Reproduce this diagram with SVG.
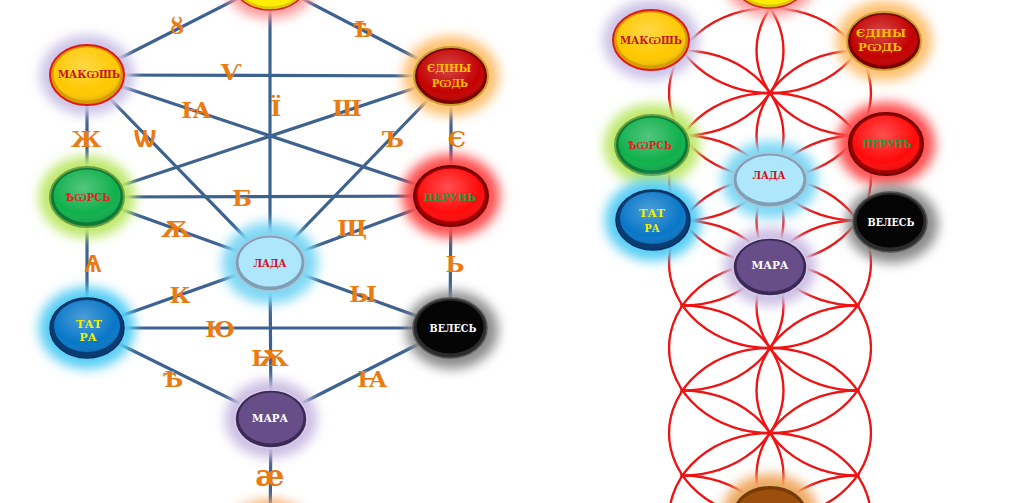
<svg xmlns="http://www.w3.org/2000/svg" width="1024" height="503" viewBox="0 0 1024 503">
<style>
.edge{stroke:#3e6290;stroke-width:3.2;stroke-linecap:round;fill:none}
.lbl{font-family:"DejaVu Serif","Noto Sans","DejaVu Sans",serif;font-weight:bold;font-size:23px;fill:#ea7a12;text-anchor:middle;dominant-baseline:central}
.nt{font-family:"DejaVu Serif","Liberation Serif","Noto Sans",serif;font-weight:bold;font-size:11px;text-anchor:middle;dominant-baseline:central}
.glow{filter:url(#blur)}
.petal{fill:none;stroke:#ee1414;stroke-width:2.4}
.shine{fill:url(#shine)}
</style>
<defs>
<filter id="blur" x="-60%" y="-60%" width="220%" height="220%"><feGaussianBlur stdDeviation="6"/></filter>
<radialGradient id="shine" cx="0.45" cy="0.35" r="0.7">
<stop offset="0" stop-color="#fff" stop-opacity="0.28"/>
<stop offset="0.7" stop-color="#fff" stop-opacity="0"/>
<stop offset="1" stop-color="#000" stop-opacity="0.15"/>
</radialGradient>
<clipPath id="flower">
<ellipse cx="770" cy="93" rx="102.5" ry="86.5"/>
<ellipse cx="770" cy="178" rx="102.5" ry="86.5"/>
<ellipse cx="770" cy="263" rx="102.5" ry="86.5"/>
<ellipse cx="770" cy="348" rx="102.5" ry="86.5"/>
<ellipse cx="770" cy="433" rx="102.5" ry="86.5"/>
<ellipse cx="770" cy="518" rx="102.5" ry="86.5"/>
</clipPath>
</defs>
<rect width="1024" height="503" fill="#fff"/>

<!-- LEFT: connectors -->
<g id="connectors">
<line class="edge" x1="270" y1="-18" x2="87" y2="75"/>
<line class="edge" x1="270" y1="-18" x2="451" y2="76"/>
<line class="edge" x1="270" y1="-18" x2="270" y2="263"/>
<line class="edge" x1="87" y1="75" x2="451" y2="76"/>
<line class="edge" x1="87" y1="75" x2="451" y2="196"/>
<line class="edge" x1="87" y1="75" x2="270" y2="263"/>
<line class="edge" x1="87" y1="75" x2="87" y2="197"/>
<line class="edge" x1="451" y1="76" x2="87" y2="197"/>
<line class="edge" x1="451" y1="76" x2="270" y2="263"/>
<line class="edge" x1="451" y1="76" x2="451" y2="196"/>
<line class="edge" x1="87" y1="197" x2="451" y2="196"/>
<line class="edge" x1="87" y1="197" x2="270" y2="263"/>
<line class="edge" x1="451" y1="196" x2="270" y2="263"/>
<line class="edge" x1="87" y1="197" x2="87" y2="328"/>
<line class="edge" x1="451" y1="196" x2="450" y2="328"/>
<line class="edge" x1="270" y1="263" x2="87" y2="328"/>
<line class="edge" x1="270" y1="263" x2="450" y2="328"/>
<line class="edge" x1="87" y1="328" x2="450" y2="328"/>
<line class="edge" x1="270" y1="263" x2="271" y2="419"/>
<line class="edge" x1="87" y1="328" x2="271" y2="419"/>
<line class="edge" x1="450" y1="328" x2="271" y2="419"/>
<line class="edge" x1="271" y1="419" x2="270" y2="540"/>
</g>

<g id="edge-labels">
<text class="lbl" x="177" y="25">ȣ</text>
<text class="lbl" x="363" y="28">Ѣ</text>
<text class="lbl" x="231" y="71">Ѵ</text>
<text class="lbl" x="196" y="109">Ꙗ</text>
<text class="lbl" x="276" y="107">Ї</text>
<text class="lbl" x="347" y="107">Ш</text>
<text class="lbl" x="86" y="138">Ж</text>
<text class="lbl" x="145" y="138">Ѡ</text>
<text class="lbl" x="393" y="138">Ъ</text>
<text class="lbl" x="457" y="138">Є</text>
<text class="lbl" x="242" y="197">Б</text>
<text class="lbl" x="176" y="228">Ѫ</text>
<text class="lbl" x="352" y="227">Щ</text>
<text class="lbl" x="93" y="263">Ѧ</text>
<text class="lbl" x="455" y="263">Ь</text>
<text class="lbl" x="180" y="294">К</text>
<text class="lbl" x="363" y="293">Ы</text>
<text class="lbl" x="220" y="328">Ю</text>
<text class="lbl" x="270" y="357">Ѭ</text>
<text class="lbl" x="173" y="378">Ѣ</text>
<text class="lbl" x="372" y="378">Ꙗ</text>
<text class="lbl" x="270" y="475" style="font-size:30px">ӕ</text>
</g>

<!-- LEFT nodes -->
<g id="L-top">
<ellipse class="glow" cx="270" cy="-18" rx="46" ry="37" fill="#ff9a9a"/>
<ellipse cx="270" cy="-18" rx="37" ry="28" fill="#e0c800" stroke="#d82020" stroke-width="1.5"/>
<ellipse cx="270" cy="-18" rx="33.5" ry="24.5" fill="#ffee00"/>
</g>
<g id="L-makosh">
<ellipse class="glow" cx="87" cy="75" rx="47" ry="40" fill="#cbc2e6"/>
<ellipse cx="87" cy="75" rx="37" ry="30" fill="#d89c00" stroke="#e01818" stroke-width="2"/>
<ellipse cx="87" cy="74" rx="33.5" ry="26.5" fill="#ffc800"/>
<ellipse class="shine" cx="87" cy="74" rx="33.5" ry="26.5"/>
<text class="nt" x="89" y="74" fill="#c0141c" textLength="62" lengthAdjust="spacingAndGlyphs">МАКѠШЬ</text>
</g>
<g id="L-edinyi">
<ellipse class="glow" cx="451" cy="76" rx="48" ry="40" fill="#ffc070"/>
<ellipse cx="451" cy="76" rx="37" ry="29" fill="#7a0000" stroke="#c8a030" stroke-width="2"/>
<ellipse cx="451" cy="75" rx="33.5" ry="25.5" fill="#c40000"/>
<ellipse class="shine" cx="451" cy="75" rx="33.5" ry="25.5"/>
<text class="nt" x="449" y="68" fill="#ffc000" textLength="44" lengthAdjust="spacingAndGlyphs">ЄДІНЫ</text>
<text class="nt" x="450" y="83" fill="#ffc000" textLength="36" lengthAdjust="spacingAndGlyphs">РѠДЬ</text>
</g>
<g id="L-iurs">
<ellipse class="glow" cx="87" cy="197" rx="48" ry="41" fill="#bde86a"/>
<ellipse cx="87" cy="197" rx="37" ry="30" fill="#0a7a36" stroke="#6aa040" stroke-width="2"/>
<ellipse cx="87" cy="196" rx="33.5" ry="26.5" fill="#10b04c"/>
<ellipse class="shine" cx="87" cy="196" rx="33.5" ry="26.5"/>
<text class="nt" x="88" y="197" fill="#e52020" textLength="45" lengthAdjust="spacingAndGlyphs">ѢѠРСЬ</text>
</g>
<g id="L-perun">
<ellipse class="glow" cx="451" cy="196" rx="49" ry="42" fill="#ff5050"/>
<ellipse cx="451" cy="196" rx="37" ry="30" fill="#a00000" stroke="#700000" stroke-width="2"/>
<ellipse cx="451" cy="195" rx="33.5" ry="26.5" fill="#ff0a0a"/>
<ellipse class="shine" cx="451" cy="195" rx="33.5" ry="26.5"/>
<text class="nt" x="450" y="197" fill="#2a9a3a" textLength="53" lengthAdjust="spacingAndGlyphs">ПЕРУНЬ</text>
</g>
<g id="L-lada">
<ellipse class="glow" cx="270" cy="263" rx="48" ry="41" fill="#7fd8f5"/>
<ellipse cx="270" cy="263" rx="35" ry="28" fill="#7f9fb6" stroke="#a9c6d8" stroke-width="1.5"/>
<ellipse cx="270" cy="262" rx="31.5" ry="24.5" fill="#aee6fb"/>
<text class="nt" x="270" y="263" fill="#d0101a" textLength="33" lengthAdjust="spacingAndGlyphs">ЛАДА</text>
</g>
<g id="L-tatra">
<ellipse class="glow" cx="87" cy="328" rx="48" ry="41" fill="#55cdf5"/>
<ellipse cx="87" cy="328" rx="37" ry="30" fill="#0a3c74" stroke="#0a3060" stroke-width="1.5"/>
<ellipse cx="87" cy="326" rx="33" ry="26" fill="#0877c8"/>
<ellipse class="shine" cx="87" cy="326" rx="33" ry="26"/>
<text class="nt" x="89" y="324" fill="#f0f000" textLength="26" lengthAdjust="spacingAndGlyphs">ТАТ</text>
<text class="nt" x="88" y="337" fill="#f0f000" textLength="17" lengthAdjust="spacingAndGlyphs">РА</text>
</g>
<g id="L-veles">
<ellipse class="glow" cx="452" cy="330" rx="46" ry="39" fill="#8a8a8a"/>
<ellipse cx="450" cy="328" rx="37" ry="30" fill="#2c2c2c" stroke="#555" stroke-width="1.5"/>
<ellipse cx="450" cy="327" rx="33.5" ry="26.5" fill="#050505"/>
<text class="nt" x="453" y="328" fill="#ffffff" textLength="47" lengthAdjust="spacingAndGlyphs">ВЕЛЕСЬ</text>
</g>
<g id="L-mara">
<ellipse class="glow" cx="271" cy="419" rx="46" ry="39" fill="#cbbde3"/>
<ellipse cx="271" cy="419" rx="36" ry="29" fill="#3a2a55" stroke="#d8cce8" stroke-width="1.5"/>
<ellipse cx="271" cy="418" rx="32.5" ry="25.5" fill="#684e88"/>
<text class="nt" x="270" y="418" fill="#ffffff" textLength="36" lengthAdjust="spacingAndGlyphs">МАРА</text>
</g>
<g id="L-bottom">
<ellipse class="glow" cx="270" cy="540" rx="48" ry="40" fill="#f6a860"/>
<ellipse cx="270" cy="540" rx="37" ry="29" fill="#c06010"/>
</g>

<!-- RIGHT: flower pattern -->
<g id="flower-pattern" clip-path="url(#flower)">
<ellipse class="petal" cx="770" cy="8" rx="101" ry="85"/>
<ellipse class="petal" cx="770" cy="93" rx="101" ry="85"/>
<ellipse class="petal" cx="770" cy="178" rx="101" ry="85"/>
<ellipse class="petal" cx="770" cy="263" rx="101" ry="85"/>
<ellipse class="petal" cx="770" cy="348" rx="101" ry="85"/>
<ellipse class="petal" cx="770" cy="433" rx="101" ry="85"/>
<ellipse class="petal" cx="770" cy="518" rx="101" ry="85"/>
<ellipse class="petal" cx="770" cy="603" rx="101" ry="85"/>
<ellipse class="petal" cx="682.5" cy="50.5" rx="101" ry="85"/>
<ellipse class="petal" cx="682.5" cy="135.5" rx="101" ry="85"/>
<ellipse class="petal" cx="682.5" cy="220.5" rx="101" ry="85"/>
<ellipse class="petal" cx="682.5" cy="305.5" rx="101" ry="85"/>
<ellipse class="petal" cx="682.5" cy="390.5" rx="101" ry="85"/>
<ellipse class="petal" cx="682.5" cy="475.5" rx="101" ry="85"/>
<ellipse class="petal" cx="682.5" cy="560.5" rx="101" ry="85"/>
<ellipse class="petal" cx="857.5" cy="50.5" rx="101" ry="85"/>
<ellipse class="petal" cx="857.5" cy="135.5" rx="101" ry="85"/>
<ellipse class="petal" cx="857.5" cy="220.5" rx="101" ry="85"/>
<ellipse class="petal" cx="857.5" cy="305.5" rx="101" ry="85"/>
<ellipse class="petal" cx="857.5" cy="390.5" rx="101" ry="85"/>
<ellipse class="petal" cx="857.5" cy="475.5" rx="101" ry="85"/>
<ellipse class="petal" cx="857.5" cy="560.5" rx="101" ry="85"/>
</g>

<!-- RIGHT nodes -->
<g id="R-top">
<ellipse class="glow" cx="770" cy="-20" rx="46" ry="37" fill="#ff9a9a"/>
<ellipse cx="770" cy="-20" rx="37" ry="28" fill="#e0c800" stroke="#d82020" stroke-width="1.5"/>
<ellipse cx="770" cy="-20" rx="33.5" ry="24.5" fill="#ffee00"/>
</g>
<g id="R-makosh">
<ellipse class="glow" cx="651" cy="40" rx="48" ry="40" fill="#cbc2e6"/>
<ellipse cx="651" cy="40" rx="38" ry="30" fill="#d89c00" stroke="#e01818" stroke-width="2"/>
<ellipse cx="651" cy="39" rx="34.5" ry="26.5" fill="#ffc800"/>
<ellipse class="shine" cx="651" cy="39" rx="34.5" ry="26.5"/>
<text class="nt" x="651" y="40" fill="#c0141c" textLength="62" lengthAdjust="spacingAndGlyphs">МАКѠШЬ</text>
</g>
<g id="R-edinyi">
<ellipse class="glow" cx="884" cy="41" rx="48" ry="40" fill="#ffc070"/>
<ellipse cx="884" cy="41" rx="37" ry="29" fill="#7a0000" stroke="#c8a030" stroke-width="2"/>
<ellipse cx="884" cy="40" rx="33.5" ry="25.5" fill="#c40000"/>
<ellipse class="shine" cx="884" cy="40" rx="33.5" ry="25.5"/>
<text class="nt" x="881" y="33" fill="#ffc000" textLength="50" lengthAdjust="spacingAndGlyphs">ЄДІНЫ</text>
<text class="nt" x="880" y="47" fill="#ffc000" textLength="44" lengthAdjust="spacingAndGlyphs">РѠДЬ</text>
</g>
<g id="R-iurs">
<ellipse class="glow" cx="652" cy="145" rx="48" ry="41" fill="#bde86a"/>
<ellipse cx="652" cy="145" rx="37" ry="30" fill="#0a7a36" stroke="#6aa040" stroke-width="2"/>
<ellipse cx="652" cy="144" rx="33.5" ry="26.5" fill="#10b04c"/>
<ellipse class="shine" cx="652" cy="144" rx="33.5" ry="26.5"/>
<text class="nt" x="650" y="145" fill="#e52020" textLength="44" lengthAdjust="spacingAndGlyphs">ѢѠРСЬ</text>
</g>
<g id="R-perun">
<ellipse class="glow" cx="886" cy="144" rx="49" ry="42" fill="#ff5050"/>
<ellipse cx="886" cy="144" rx="37" ry="31" fill="#a00000" stroke="#700000" stroke-width="2"/>
<ellipse cx="886" cy="143" rx="33.5" ry="27.5" fill="#ff0a0a"/>
<ellipse class="shine" cx="886" cy="143" rx="33.5" ry="27.5"/>
<text class="nt" x="887" y="144" fill="#2a9a3a" textLength="49" lengthAdjust="spacingAndGlyphs">ПЕРУНЬ</text>
</g>
<g id="R-lada">
<ellipse class="glow" cx="770" cy="180" rx="48" ry="39" fill="#7fd8f5"/>
<ellipse cx="770" cy="180" rx="37" ry="27" fill="#7f9fb6" stroke="#a9c6d8" stroke-width="1.5"/>
<ellipse cx="770" cy="179" rx="33.5" ry="23.5" fill="#aee6fb"/>
<text class="nt" x="769" y="175" fill="#d0101a" textLength="33" lengthAdjust="spacingAndGlyphs">ЛАДА</text>
</g>
<g id="R-tatra">
<ellipse class="glow" cx="653" cy="220" rx="48" ry="41" fill="#55cdf5"/>
<ellipse cx="653" cy="220" rx="37" ry="30" fill="#0a3c74" stroke="#0a3060" stroke-width="1.5"/>
<ellipse cx="653" cy="218" rx="33" ry="26" fill="#0877c8"/>
<ellipse class="shine" cx="653" cy="218" rx="33" ry="26"/>
<text class="nt" x="652" y="213" fill="#f0f000" textLength="26" lengthAdjust="spacingAndGlyphs">ТАТ</text>
<text class="nt" x="652" y="228" fill="#f0f000" textLength="15" lengthAdjust="spacingAndGlyphs">РА</text>
</g>
<g id="R-veles">
<ellipse class="glow" cx="892" cy="224" rx="46" ry="39" fill="#8a8a8a"/>
<ellipse cx="890" cy="222" rx="37" ry="30" fill="#2c2c2c" stroke="#555" stroke-width="1.5"/>
<ellipse cx="890" cy="221" rx="33.5" ry="26.5" fill="#050505"/>
<text class="nt" x="891" y="222" fill="#ffffff" textLength="47" lengthAdjust="spacingAndGlyphs">ВЕЛЕСЬ</text>
</g>
<g id="R-mara">
<ellipse class="glow" cx="770" cy="267" rx="46" ry="39" fill="#cbbde3"/>
<ellipse cx="770" cy="267" rx="37" ry="29" fill="#3a2a55" stroke="#d8cce8" stroke-width="1.5"/>
<ellipse cx="770" cy="266" rx="33.5" ry="25.5" fill="#684e88"/>
<text class="nt" x="770" y="265" fill="#ffffff" textLength="37" lengthAdjust="spacingAndGlyphs">МАРА</text>
</g>
<g id="R-bottom">
<ellipse class="glow" cx="770" cy="514" rx="48" ry="40" fill="#f0a860"/>
<ellipse cx="770" cy="514" rx="38" ry="29" fill="#7a3a05" stroke="#e0b070" stroke-width="2"/>
<ellipse cx="770" cy="515" rx="34.5" ry="25.5" fill="#9c4e0c"/>
</g>
</svg>
